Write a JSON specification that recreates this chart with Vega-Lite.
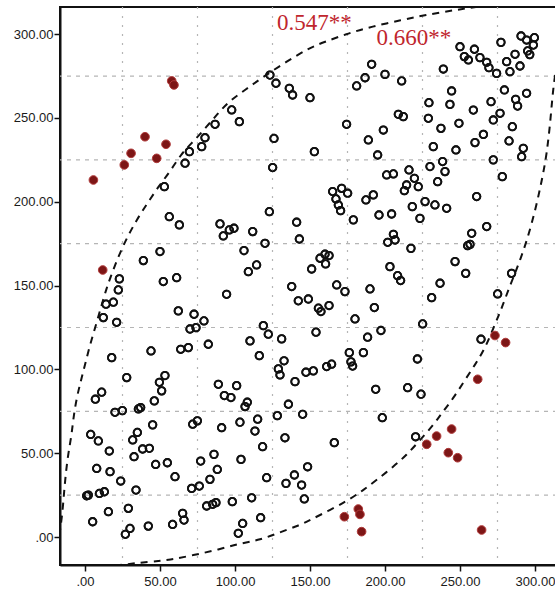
{
  "$schema": "https://vega.github.io/schema/vega-lite/v6.json",
  "width": 497,
  "height": 558,
  "autosize": {"type": "none"},
  "padding": {"left": 60, "top": 7, "right": 0, "bottom": 25},
  "background": "white",
  "config": {
    "view": {"stroke": "#111", "strokeWidth": 2},
    "axis": {"grid": false, "domainColor": "#111", "domainWidth": 2, "tickColor": "#111", "tickWidth": 1.5, "tickSize": 6, "labelFont": "Liberation Sans", "labelFontSize": 13, "labelColor": "#1a1a1a"}
  },
  "datasets": {
    "gx": [{"x": 25}, {"x": 75}, {"x": 125}, {"x": 175}, {"x": 225}, {"x": 275}],
    "gy": [{"y": 25}, {"y": 75}, {"y": 125}, {"y": 175}, {"y": 225}, {"y": 275}],
    "lab": [{"x": 128, "y": 306.4, "t": "0.547**"}, {"x": 194.4, "y": 298.0, "t": "0.660**"}],
    "ell": [
      {"o": 1, "x": -22, "y": -22}, {"o": 2, "x": -15.6, "y": 7.1}, {"o": 3, "x": -14, "y": 27}, {"o": 4, "x": -11.8, "y": 46.9}, {"o": 5, "x": -8.9, "y": 60.8}, {"o": 6, "x": -7.8, "y": 70.8}, {"o": 7, "x": -5.6, "y": 82.8}, {"o": 8, "x": -2.9, "y": 92.7}, {"o": 9, "x": 0, "y": 102.7}, {"o": 10, "x": 3.3, "y": 114.6}, {"o": 11, "x": 7.3, "y": 126.5}, {"o": 12, "x": 11.1, "y": 138.5}, {"o": 13, "x": 14.4, "y": 148.4}, {"o": 14, "x": 16.7, "y": 154.3}, {"o": 15, "x": 22.2, "y": 167.3}, {"o": 16, "x": 27.8, "y": 178.2}, {"o": 17, "x": 34.4, "y": 189.2}, {"o": 18, "x": 41.6, "y": 199.1}, {"o": 19, "x": 48.9, "y": 209}, {"o": 20, "x": 56.7, "y": 218}, {"o": 21, "x": 64.4, "y": 228.9}, {"o": 22, "x": 72.2, "y": 235.9}, {"o": 23, "x": 81.1, "y": 244.8}, {"o": 24, "x": 87.8, "y": 251.8}, {"o": 25, "x": 95.6, "y": 259.7}, {"o": 26, "x": 106.7, "y": 266.7}, {"o": 27, "x": 118.9, "y": 274.6}, {"o": 28, "x": 134.4, "y": 283.6}, {"o": 29, "x": 148.9, "y": 291.5}, {"o": 30, "x": 160, "y": 295.5}, {"o": 31, "x": 175.6, "y": 300.5}, {"o": 32, "x": 191.1, "y": 304.5}, {"o": 33, "x": 211.1, "y": 308.4}, {"o": 34, "x": 226.7, "y": 311.4}, {"o": 35, "x": 246.7, "y": 314.4}, {"o": 36, "x": 262.2, "y": 316.4}, {"o": 37, "x": 290, "y": 320.5}, {"o": 38, "x": 310, "y": 322}, {"o": 39, "x": 318, "y": 310}, {"o": 40, "x": 316, "y": 290}, {"o": 41, "x": 312.2, "y": 269.7}, {"o": 42, "x": 310.5, "y": 250}, {"o": 43, "x": 307.8, "y": 227.9}, {"o": 44, "x": 304.4, "y": 212}, {"o": 45, "x": 300, "y": 194.1}, {"o": 46, "x": 294.4, "y": 176.2}, {"o": 47, "x": 288.9, "y": 162.3}, {"o": 48, "x": 282.2, "y": 147.4}, {"o": 49, "x": 277.8, "y": 136.5}, {"o": 50, "x": 272.2, "y": 124.5}, {"o": 51, "x": 266.7, "y": 112.6}, {"o": 52, "x": 260, "y": 102.7}, {"o": 53, "x": 253.3, "y": 93.7}, {"o": 54, "x": 245.6, "y": 82.8}, {"o": 55, "x": 237.8, "y": 73.8}, {"o": 56, "x": 232.2, "y": 66.8}, {"o": 57, "x": 223.3, "y": 57.8}, {"o": 58, "x": 214.4, "y": 48.9}, {"o": 59, "x": 205.6, "y": 42}, {"o": 60, "x": 194.4, "y": 34}, {"o": 61, "x": 185.6, "y": 28}, {"o": 62, "x": 175.6, "y": 22}, {"o": 63, "x": 163.3, "y": 16.1}, {"o": 64, "x": 150, "y": 10.1}, {"o": 65, "x": 143.3, "y": 7.1}, {"o": 66, "x": 130, "y": 2.8}, {"o": 67, "x": 116.7, "y": -1.8}, {"o": 68, "x": 103.3, "y": -3.8}, {"o": 69, "x": 87.8, "y": -7.8}, {"o": 70, "x": 72.2, "y": -10.8}, {"o": 71, "x": 56.7, "y": -13.7}, {"o": 72, "x": 43.3, "y": -14.7}, {"o": 73, "x": 20, "y": -17}, {"o": 74, "x": -22, "y": -22}
    ],
    "red": [
      {"x": 57.8, "y": 272.1}, {"x": 59.3, "y": 269.7}, {"x": 40.0, "y": 238.8}, {"x": 54.0, "y": 234.3}, {"x": 30.7, "y": 228.9}, {"x": 26.2, "y": 222.0}, {"x": 47.8, "y": 225.9}, {"x": 5.6, "y": 213.0}, {"x": 11.8, "y": 159.3}, {"x": 273.3, "y": 120.2}, {"x": 280.4, "y": 116.0}, {"x": 261.8, "y": 94.1}, {"x": 244.4, "y": 64.4}, {"x": 234.4, "y": 60.2}, {"x": 227.8, "y": 55.3}, {"x": 242.2, "y": 50.3}, {"x": 248.4, "y": 47.3}, {"x": 172.9, "y": 12.1}, {"x": 182.2, "y": 16.7}, {"x": 183.3, "y": 13.5}, {"x": 184.4, "y": 3.2}, {"x": 264.4, "y": 4.2}
    ],
    "pts": [
      {"x": 123.3, "y": 275.6}, {"x": 127.3, "y": 270.7}, {"x": 136.2, "y": 267.7}, {"x": 138.4, "y": 263.7}, {"x": 97.8, "y": 254.8}, {"x": 102.9, "y": 247.8}, {"x": 86.7, "y": 246.2}, {"x": 80.0, "y": 238.2}, {"x": 77.8, "y": 232.9}, {"x": 126.0, "y": 237.8},
      {"x": 150.0, "y": 262.1}, {"x": 181.1, "y": 269.1}, {"x": 186.7, "y": 274.0}, {"x": 191.1, "y": 282.0}, {"x": 200.0, "y": 276.0}, {"x": 211.1, "y": 272.1}, {"x": 174.4, "y": 246.2}, {"x": 208.9, "y": 252.2}, {"x": 212.2, "y": 250.8}, {"x": 198.9, "y": 242.8}, {"x": 188.9, "y": 236.9}, {"x": 238.9, "y": 279.2}, {"x": 250.0, "y": 292.5}, {"x": 252.9, "y": 286.6}, {"x": 255.6, "y": 284.6}, {"x": 259.6, "y": 291.0}, {"x": 263.3, "y": 286.0}, {"x": 267.8, "y": 283.2}, {"x": 269.3, "y": 280.0}, {"x": 274.4, "y": 276.6}, {"x": 277.3, "y": 295.1}, {"x": 281.1, "y": 283.6}, {"x": 283.3, "y": 277.6}, {"x": 286.7, "y": 288.0}, {"x": 290.0, "y": 281.0}, {"x": 290.7, "y": 298.9}, {"x": 294.4, "y": 296.5}, {"x": 299.6, "y": 297.9}, {"x": 298.9, "y": 293.5}, {"x": 295.1, "y": 290.0}, {"x": 296.5, "y": 287.8}, {"x": 244.4, "y": 266.1}, {"x": 229.3, "y": 259.1}, {"x": 243.3, "y": 258.1}, {"x": 228.9, "y": 249.8}, {"x": 237.3, "y": 243.8}, {"x": 249.3, "y": 246.8}, {"x": 258.9, "y": 254.7}, {"x": 270.7, "y": 259.7}, {"x": 279.6, "y": 266.7}, {"x": 287.1, "y": 261.1}, {"x": 288.4, "y": 257.1}, {"x": 294.4, "y": 264.7}, {"x": 276.7, "y": 252.8}, {"x": 272.2, "y": 248.8}, {"x": 284.9, "y": 244.8}, {"x": 265.6, "y": 240.2}, {"x": 260.0, "y": 235.3}, {"x": 282.7, "y": 236.3}, {"x": 232.2, "y": 232.9},
      {"x": 69.6, "y": 229.9}, {"x": 66.7, "y": 223.0}, {"x": 52.9, "y": 209.0}, {"x": 56.2, "y": 191.1}, {"x": 62.9, "y": 186.2}, {"x": 125.1, "y": 220.4}, {"x": 122.9, "y": 194.1}, {"x": 90.0, "y": 186.8}, {"x": 92.2, "y": 179.6}, {"x": 96.2, "y": 183.2}, {"x": 99.3, "y": 184.2}, {"x": 111.8, "y": 182.2}, {"x": 120.0, "y": 175.2}, {"x": 106.0, "y": 170.9}, {"x": 114.4, "y": 162.3}, {"x": 108.9, "y": 158.3}, {"x": 141.1, "y": 187.8}, {"x": 142.9, "y": 177.8}, {"x": 50.0, "y": 170.3}, {"x": 38.9, "y": 164.9}, {"x": 22.9, "y": 154.0}, {"x": 52.2, "y": 152.4}, {"x": 61.1, "y": 154.7}, {"x": 137.8, "y": 149.4},
      {"x": 152.9, "y": 229.9}, {"x": 195.1, "y": 227.9}, {"x": 247.3, "y": 230.9}, {"x": 292.2, "y": 231.9}, {"x": 291.1, "y": 226.9}, {"x": 272.2, "y": 225.0}, {"x": 278.2, "y": 215.0}, {"x": 261.1, "y": 203.1}, {"x": 238.4, "y": 224.0}, {"x": 230.0, "y": 221.0}, {"x": 240.0, "y": 218.0}, {"x": 235.1, "y": 212.0}, {"x": 216.0, "y": 219.0}, {"x": 201.1, "y": 216.0}, {"x": 205.6, "y": 216.6}, {"x": 219.6, "y": 214.0}, {"x": 214.4, "y": 210.0}, {"x": 222.2, "y": 209.0}, {"x": 212.9, "y": 206.6}, {"x": 226.7, "y": 200.1}, {"x": 233.3, "y": 198.1}, {"x": 241.1, "y": 196.1}, {"x": 218.2, "y": 197.1}, {"x": 223.3, "y": 190.1}, {"x": 165.1, "y": 206.1}, {"x": 171.1, "y": 208.0}, {"x": 175.1, "y": 205.1}, {"x": 167.3, "y": 201.7}, {"x": 168.9, "y": 198.1}, {"x": 170.4, "y": 194.7}, {"x": 187.3, "y": 201.1}, {"x": 192.2, "y": 204.1}, {"x": 178.9, "y": 189.2}, {"x": 196.0, "y": 192.1}, {"x": 204.4, "y": 192.7}, {"x": 205.6, "y": 180.6}, {"x": 206.7, "y": 177.2}, {"x": 201.8, "y": 175.8}, {"x": 217.3, "y": 172.2}, {"x": 257.8, "y": 181.2}, {"x": 267.8, "y": 185.2}, {"x": 255.1, "y": 173.8}, {"x": 256.7, "y": 174.6}, {"x": 246.7, "y": 164.3}, {"x": 253.8, "y": 157.3}, {"x": 284.4, "y": 157.3}, {"x": 203.3, "y": 161.3}, {"x": 208.4, "y": 155.9}, {"x": 210.4, "y": 153.0}, {"x": 236.7, "y": 151.4}, {"x": 167.8, "y": 150.4}, {"x": 151.1, "y": 159.9}, {"x": 156.7, "y": 166.3}, {"x": 160.0, "y": 168.7}, {"x": 162.7, "y": 167.9}, {"x": 160.4, "y": 162.9},
      {"x": 22.2, "y": 147.4}, {"x": 18.9, "y": 140.1}, {"x": 14.0, "y": 138.9}, {"x": 12.2, "y": 130.9}, {"x": 21.1, "y": 128.1}, {"x": 17.8, "y": 107.0}, {"x": 94.4, "y": 144.8}, {"x": 142.2, "y": 140.9}, {"x": 62.2, "y": 134.9}, {"x": 72.7, "y": 132.9}, {"x": 79.3, "y": 128.9}, {"x": 70.0, "y": 124.1}, {"x": 74.0, "y": 124.9}, {"x": 82.2, "y": 115.0}, {"x": 63.8, "y": 112.0}, {"x": 68.9, "y": 113.0}, {"x": 44.0, "y": 111.0}, {"x": 118.9, "y": 126.1}, {"x": 122.2, "y": 121.0}, {"x": 131.1, "y": 118.2}, {"x": 110.0, "y": 117.0}, {"x": 116.2, "y": 108.2}, {"x": 132.7, "y": 105.1}, {"x": 128.9, "y": 100.3}, {"x": 130.0, "y": 96.7}, {"x": 147.3, "y": 98.3}, {"x": 140.0, "y": 92.7}, {"x": 27.8, "y": 95.1}, {"x": 53.3, "y": 96.3}, {"x": 49.6, "y": 92.3}, {"x": 51.1, "y": 87.2}, {"x": 46.2, "y": 81.2}, {"x": 11.1, "y": 86.4}, {"x": 6.9, "y": 82.2}, {"x": 20.0, "y": 74.4}, {"x": 24.9, "y": 75.4}, {"x": 35.6, "y": 76.4}, {"x": 37.1, "y": 77.2}, {"x": 88.9, "y": 91.1}, {"x": 101.1, "y": 90.3}, {"x": 92.9, "y": 84.4}, {"x": 97.3, "y": 83.2}, {"x": 108.2, "y": 80.4}, {"x": 106.7, "y": 77.8}, {"x": 135.6, "y": 79.2}, {"x": 128.2, "y": 72.4}, {"x": 145.1, "y": 73.2}, {"x": 115.1, "y": 70.3}, {"x": 103.3, "y": 68.5}, {"x": 71.8, "y": 67.3}, {"x": 74.9, "y": 69.3}, {"x": 45.1, "y": 66.9},
      {"x": 148.9, "y": 142.0}, {"x": 155.6, "y": 136.5}, {"x": 157.3, "y": 134.5}, {"x": 162.7, "y": 138.1}, {"x": 173.3, "y": 146.4}, {"x": 190.0, "y": 148.0}, {"x": 192.9, "y": 136.9}, {"x": 180.0, "y": 130.1}, {"x": 154.0, "y": 122.2}, {"x": 197.3, "y": 123.2}, {"x": 188.4, "y": 119.2}, {"x": 185.6, "y": 110.0}, {"x": 176.2, "y": 110.0}, {"x": 177.3, "y": 104.5}, {"x": 178.4, "y": 102.0}, {"x": 164.4, "y": 103.1}, {"x": 161.1, "y": 101.7}, {"x": 152.2, "y": 99.1}, {"x": 231.1, "y": 142.8}, {"x": 275.1, "y": 145.0}, {"x": 225.1, "y": 127.1}, {"x": 264.0, "y": 118.0}, {"x": 221.6, "y": 106.2}, {"x": 193.8, "y": 88.1}, {"x": 215.1, "y": 89.1}, {"x": 224.0, "y": 85.2}, {"x": 198.2, "y": 71.2},
      {"x": 3.8, "y": 61.2}, {"x": 8.9, "y": 57.3}, {"x": 16.2, "y": 51.3}, {"x": 34.9, "y": 62.4}, {"x": 31.8, "y": 57.9}, {"x": 38.4, "y": 52.5}, {"x": 42.9, "y": 52.9}, {"x": 32.7, "y": 47.9}, {"x": 7.8, "y": 40.9}, {"x": 16.7, "y": 39.0}, {"x": 23.8, "y": 33.4}, {"x": 1.1, "y": 24.6}, {"x": 2.2, "y": 25.0}, {"x": 9.6, "y": 26.0}, {"x": 12.9, "y": 27.0}, {"x": 34.0, "y": 28.0}, {"x": 15.6, "y": 15.1}, {"x": 5.1, "y": 9.1}, {"x": 28.9, "y": 17.1}, {"x": 30.0, "y": 5.1}, {"x": 26.9, "y": 1.6}, {"x": 42.2, "y": 6.5}, {"x": 47.1, "y": 43.3}, {"x": 54.9, "y": 44.3}, {"x": 60.0, "y": 36.0}, {"x": 58.4, "y": 7.5}, {"x": 65.1, "y": 14.1}, {"x": 66.0, "y": 10.1}, {"x": 91.1, "y": 65.2}, {"x": 113.3, "y": 63.2}, {"x": 77.1, "y": 45.3}, {"x": 86.0, "y": 49.3}, {"x": 88.2, "y": 40.3}, {"x": 83.3, "y": 34.4}, {"x": 71.1, "y": 29.0}, {"x": 76.2, "y": 30.4}, {"x": 81.1, "y": 18.5}, {"x": 85.1, "y": 19.5}, {"x": 87.3, "y": 20.5}, {"x": 98.2, "y": 21.1}, {"x": 104.0, "y": 46.3}, {"x": 118.4, "y": 53.9}, {"x": 133.3, "y": 59.2}, {"x": 111.1, "y": 23.4}, {"x": 121.1, "y": 35.4}, {"x": 105.1, "y": 8.1}, {"x": 102.2, "y": 2.2}, {"x": 117.1, "y": 11.5}, {"x": 134.0, "y": 32.0}, {"x": 139.6, "y": 37.0}, {"x": 144.4, "y": 31.0}, {"x": 146.2, "y": 22.7},
      {"x": 148.4, "y": 41.9}, {"x": 166.2, "y": 56.3}, {"x": 220.4, "y": 59.8}
    ]
  },
  "layer": [
    {
      "data": {"name": "pts"},
      "mark": {"type": "point", "shape": "circle", "filled": false, "stroke": "#111", "strokeWidth": 1.8, "size": 56, "opacity": 1},
      "encoding": {
        "x": {"field": "x", "type": "quantitative", "title": null, "scale": {"domain": [-16.67, 314.67], "nice": false, "zero": false},
              "axis": {"values": [0, 50, 100, 150, 200, 250, 300], "labelExpr": "datum.value == 0 ? '.00' : format(datum.value, '.2f')", "labelPadding": 4}},
        "y": {"field": "y", "type": "quantitative", "title": null, "scale": {"domain": [-16.7, 316.2], "nice": false, "zero": false},
              "axis": {"values": [0, 50, 100, 150, 200, 250, 300], "labelExpr": "datum.value == 0 ? '.00' : format(datum.value, '.2f')", "labelPadding": 1}}
      }
    },
    {
      "data": {"name": "gx"},
      "mark": {"type": "rule", "color": "#b5b5b5", "strokeWidth": 1.2, "strokeDash": [2, 7]},
      "encoding": {"x": {"field": "x", "type": "quantitative", "title": null}}
    },
    {
      "data": {"name": "gy"},
      "mark": {"type": "rule", "color": "#b5b5b5", "strokeWidth": 1.2, "strokeDash": [4, 5]},
      "encoding": {"y": {"field": "y", "type": "quantitative", "title": null}}
    },
    {
      "data": {"name": "ell"},
      "mark": {"type": "line", "color": "#111", "strokeWidth": 2, "strokeDash": [7, 6], "interpolate": "basis", "clip": true},
      "encoding": {
        "x": {"field": "x", "type": "quantitative", "title": null},
        "y": {"field": "y", "type": "quantitative", "title": null},
        "order": {"field": "o", "type": "quantitative"}
      }
    },
    {
      "data": {"name": "pts"},
      "mark": {"type": "point", "shape": "circle", "filled": false, "stroke": "#111", "strokeWidth": 1.8, "size": 56, "opacity": 1},
      "encoding": {
        "x": {"field": "x", "type": "quantitative", "title": null},
        "y": {"field": "y", "type": "quantitative", "title": null}
      }
    },
    {
      "data": {"name": "red"},
      "mark": {"type": "circle", "fill": "#7d1616", "stroke": "#b03a3a", "strokeWidth": 1, "size": 75, "opacity": 1},
      "encoding": {
        "x": {"field": "x", "type": "quantitative", "title": null},
        "y": {"field": "y", "type": "quantitative", "title": null}
      }
    },
    {
      "data": {"name": "lab"},
      "mark": {"type": "text", "font": "Liberation Serif", "fontSize": 23, "color": "#c0262d", "align": "left", "baseline": "middle"},
      "encoding": {
        "x": {"field": "x", "type": "quantitative", "title": null},
        "y": {"field": "y", "type": "quantitative", "title": null},
        "text": {"field": "t"}
      }
    }
  ]
}
